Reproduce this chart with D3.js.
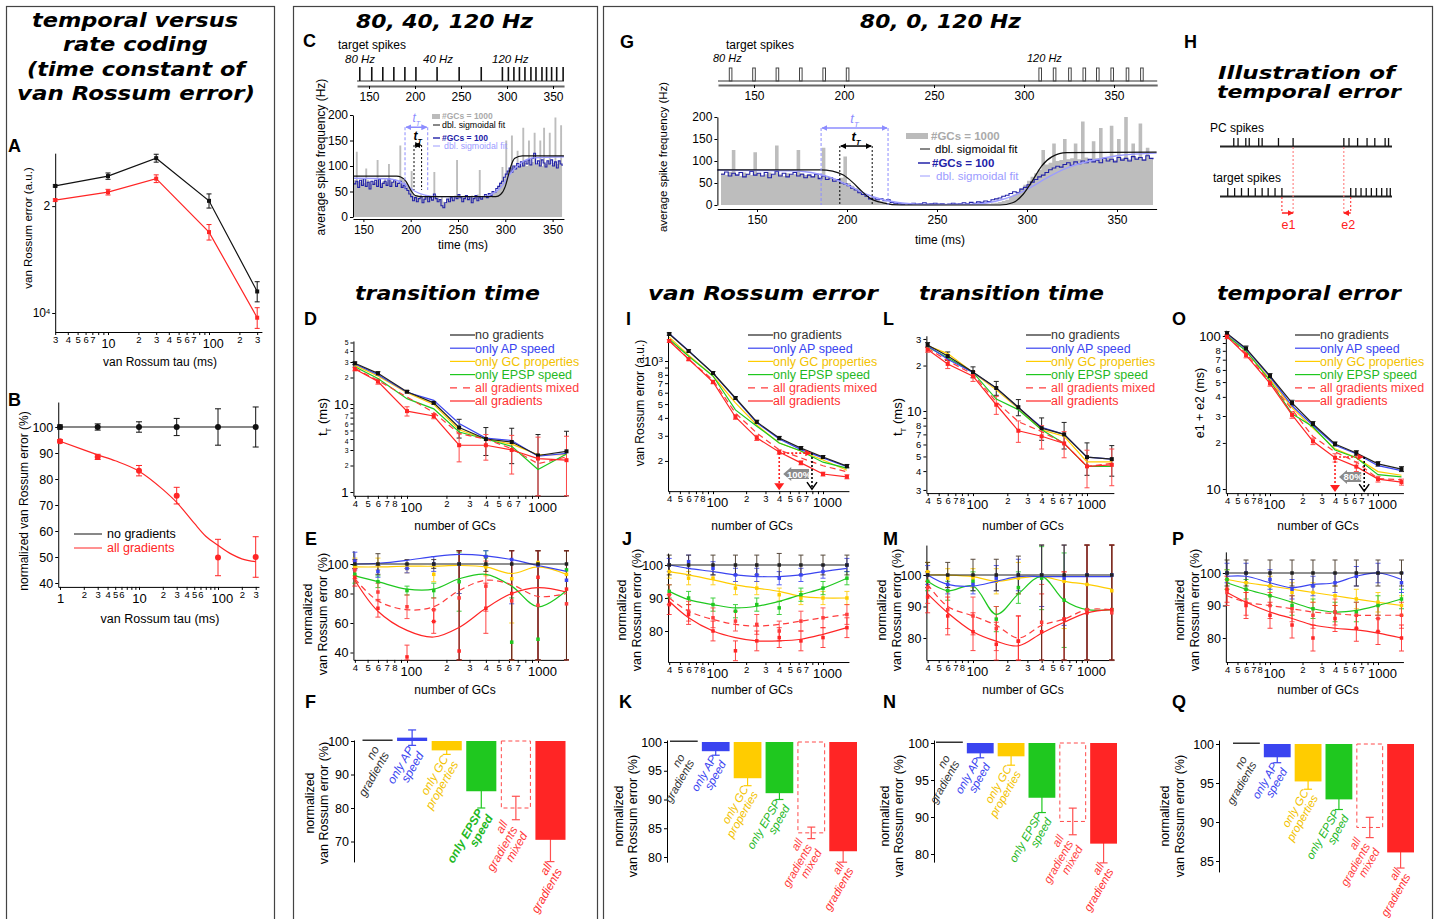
<!DOCTYPE html>
<html><head><meta charset="utf-8">
<script src="https://cdn.jsdelivr.net/npm/d3@7/dist/d3.min.js"></script>
<style>html,body{margin:0;padding:0;background:#fff;overflow:hidden}svg{display:block}</style>
</head><body>
<script>
/* ======================= DATA ======================= */
// Panel A : van Rossum error (x1e4 a.u.) vs tau
const tauA = [3, 10, 30, 100, 300];
const A_noGrad = [2.28, 2.43, 2.73, 2.07, 1.15];
const A_noGrad_err = [0.015, 0.05, 0.07, 0.095, 0.075];
const A_allGrad = [2.08, 2.19, 2.39, 1.69, 0.97];
const A_allGrad_err = [0.015, 0.04, 0.06, 0.085, 0.065];
const A_xLabels = [3,4,5,6,7,10,20,30,40,50,60,70,100,200,300];
const A_yTicks = [1, 2];

// Panel B : normalized van Rossum error vs tau
const tauB = [1, 3, 10, 30, 100, 300];
const B_noGrad = [100, 100, 100, 100, 100, 100];
const B_noGrad_err = [0.8, 1.2, 2, 3.3, 7, 7.7];
const B_allGrad = [94.5, 88.5, 83.2, 73.6, 49.8, 50.0];
const B_allGrad_err = [0.6, 1.0, 2.0, 3.2, 7.0, 7.8];
const B_fitTau = [1, 2, 3, 5, 10, 20, 30, 50, 70, 100, 150, 200, 300];
const B_fit = [94.5, 91.2, 89.3, 87.0, 83.0, 76.0, 71.0, 63.0, 58.0, 54.5, 51.0, 49.3, 48.2];
const B_xLabels = [1,2,3,4,5,6,10,20,30,40,50,60,100,200,300];
const B_yTicks = [40, 50, 60, 70, 80, 90, 100];

// Panel C : 80, 40, 120 Hz  (2 ms bins starting at 140 ms)
const C_binStart = 140, C_binStep = 2;
const C_gc1000 = [
 72,128,70,68,75,66,95,72,70,64,  70,68,112,74,66,70,76,68,104,72,
 68,74,70,66,140,78,72,66,60,56,  90,45,40,42,38,44,36,40,42,38,
 40,36,88,42,38,34,40,30,26,34,   38,40,36,42,112,44,40,38,42,36,
 40,38,42,36,40,44,92,40,38,42,   40,44,38,46,48,52,60,68,98,76,
 150,88,96,160,98,102,130,104,100,175, 106,100,150,104,108,165,102,106,150,100,
 175,104,108,165,102,106,195,104,110,180, 200];
const C_gc100 = [
 65,70,58,72,62,75,60,68,55,70,   64,72,60,74,58,66,70,62,75,60,
 68,72,60,66,70,58,62,56,52,45,   40,32,38,30,36,40,28,35,42,30,
 38,33,45,36,30,34,22,18,28,35,   30,38,32,40,36,44,38,30,36,42,
 34,40,28,36,42,32,38,35,40,44,   38,46,42,50,48,56,60,66,70,78,
 84,90,96,88,100,94,105,98,108,100, 110,104,112,102,115,125,104,110,100,112,
 106,98,110,104,112,100,108,96,110,104, 100];
const C_fitT = [139, 185, 190, 195, 198, 201, 205, 212, 290, 295, 300, 303, 306, 310, 318, 362];
const C_fit = [80, 80, 78, 70, 60, 50, 42, 40, 40, 44, 60, 80, 100, 115, 120, 120];
const C_fitLbT = [139, 175, 185, 195, 200, 205, 215, 230, 275, 285, 295, 300, 305, 315, 330, 362];
const C_fitLb = [76, 75, 72, 62, 56, 50, 43, 40, 40, 44, 58, 70, 84, 104, 116, 118];
const C_targetSpikes = [140,153,165,177,189,201,224,248,272,295,301.5,307.5,313.5,319.5,326,331.5,338,343,348.5,354,361];
const C_trLB = [194, 218], C_trBK = [203.5, 211.5];
const C_timeTicks = [150, 200, 250, 300, 350];
const C_freqTicks = [0, 50, 100, 150, 200];

// Panel G : 80, 0, 120 Hz (2 ms bins starting at 130 ms)
const G_binStart = 130, G_binStep = 2;
const G_gc1000 = [
 72,68,75,125,70,66,74,70,68,120,  72,66,70,74,68,135,70,66,72,68,
 70,125,72,68,70,66,72,64,130,66,  62,60,58,62,110,50,44,38,32,28,
 22,18,14,10,8,6,4,3,2,2,          1,1,1,2,1,1,2,1,1,2,
 1,2,1,1,2,1,1,2,1,2,              1,2,2,3,3,4,5,7,9,12,
 18,24,30,38,46,55,64,72,80,125,   92,96,140,100,102,150,104,106,140,104,
 190,108,104,145,106,175,104,108,180,102, 150,106,200,104,140,108,185,104,130,106,
 135];
const G_gc100 = [
 70,75,66,72,68,74,64,70,76,68,    72,66,74,62,70,76,66,72,64,70,
 74,66,70,62,68,64,70,60,66,58,    62,54,58,50,48,44,38,34,28,24,
 20,14,16,12,14,10,12,6,4,3,       2,3,2,4,2,3,5,2,3,4,
 2,3,1,2,4,2,3,5,3,6,              4,7,6,9,8,12,14,16,20,22,
 26,30,28,36,40,46,52,58,64,68,    74,80,84,88,86,92,96,90,98,94,
 100,96,104,98,102,96,106,100,104,98, 108,102,106,100,110,104,108,102,112,106,
 104];
const G_fitT = [128, 185, 192, 198, 203, 208, 213, 220, 230, 285, 292, 298, 303, 308, 314, 322, 372];
const G_fit = [80, 80, 77, 68, 52, 32, 15, 5, 0, 0, 5, 25, 55, 88, 110, 119, 120];
const G_fitLbT = [128, 170, 180, 190, 200, 210, 220, 232, 245, 270, 282, 292, 302, 312, 322, 335, 350, 372];
const G_fitLb = [79, 78, 74, 64, 46, 26, 12, 4, 1, 2, 8, 20, 40, 64, 84, 100, 112, 118];
const G_targetSpikes = [137,150,163,176,189,202,309,317,325.5,333.5,341,349,357.5,365.5];
const G_trLB = [185.6, 222.8], G_trBK = [196, 214];

// Panel H : illustration (arbitrary time units 0-100)
const H_pcSpikes = [8, 10.5, 15, 17, 22.5, 24.5, 34, 42.5, 72, 75, 80, 85.5, 90, 96, 98];
const H_targetSpikes = [4.5, 8.5, 12.5, 16.5, 20.5, 24.5, 28, 32, 36, 76, 79, 82, 85, 88, 91, 94, 97, 99];
const H_e1 = [36, 42.5], H_e2 = [76, 72];

// number of GCs (x for D-Q)
const nGCs = [40, 60, 100, 160, 250, 400, 630, 1000, 1650];
const gcLabels = [40,50,60,70,80,100,200,300,400,500,600,700,1000];

// Panel D : transition time (ms), 80-40-120
const D_no    = [29, 22.3, 13.8, 10.3, 5.4, 4.0, 3.7, 2.6, 2.9];
const D_ap    = [28.5, 21.5, 13.6, 11.0, 6.0, 4.1, 3.85, 2.55, 2.75];
const D_gc    = [27.5, 20.8, 13.4, 9.9, 5.1, 4.0, 3.5, 2.65, 2.65];
const D_epsp  = [26.5, 19.5, 11.5, 8.8, 4.8, 4.0, 3.3, 1.8, 2.7];
const D_mixed = [25.5, 18.5, 12.0, 8.0, 4.6, 4.0, 3.1, 2.1, 2.5];
const D_all   = [25, 18, 8.3, 7.3, 3.4, 3.4, 3.0, 2.4, 2.3];
const D_err_no  = [1, 1, 0.4, 0.3, 1.3, 1.4, 1.6, 1.9, 2];
const D_err_all = [1.2, 1.2, 1, 0.5, 1.2, 1.1, 1.4, 1.8, 2];
const D_yLabels = [1,2,3,4,5,6,7,10,20,30,40,50];

// Panel E : normalized van Rossum error, 80-40-120
const E_no_pts    = [100,100,100,100,100,100,100,100,100];
const E_ap_pts    = [102, 95, 97, 100, 100, 105, 103, 99, 89];
const E_gc_pts    = [98, 100, 97, 93, 100, 98, 90, 101, 93];
const E_epsp_pts  = [93, 88, 82, 82, 88, 105, 47, 49, 96];
const E_mixed_pts = [96, 81, 71, 69, 77, 85, 75, 72, 73];
const E_all_pts   = [91, 70, 37, 61, 41, 70, 80, 91, 83];
const E_ap_fit    = [100, 100.5, 102.5, 105, 106.5, 105.5, 103, 99, 95];
const E_gc_fit    = [98, 98, 98.5, 98.5, 99, 98, 93.5, 98, 93];
const E_epsp_fit  = [92, 88, 83, 83, 90, 93, 85, 71, 82];
const E_mixed_fit = [90, 75, 69, 71, 82, 89, 86, 78, 80];
const E_all_fit   = [89, 68, 55, 50.5, 57, 70, 80, 84, 81];
const E_err_no  = [3, 7, 3, 3, 70, 5, 70, 70, 70];
const E_err_col = [6, 4, 3, 5, 20, 6, 30, 70, 70];
const E_err_red = [6, 6, 8, 8, 70, 17, 45, 70, 70];

// Panel F/K/N/Q : bars (normalized van Rossum error %)
const F_vals = [100, 101, 97.2, 85, 80, 70.5];
const F_err  = [0, 2.3, 1.2, 5, 3.5, 6.5];
const F_ticks = [70, 80, 90, 100];
const K_vals = [100, 98.4, 93.7, 91.1, 84.2, 81.0];
const K_err  = [0, 0.7, 1.3, 1.1, 1.0, 1.9];
const K_ticks = [80, 85, 90, 95, 100];
const N_vals = [100, 98.6, 98.2, 92.6, 89.4, 86.4];
const N_err  = [0, 0.6, 1.2, 2.0, 1.8, 2.6];
const N_ticks = [85, 90, 95, 100];
const N_tickLabels = ['80', '90', '95', '100'];
const Q_vals = [100, 98.3, 95.2, 92.9, 89.3, 86.1];
const Q_err  = [0, 0.7, 1.0, 1.3, 1.3, 2.0];
const Q_ticks = [85, 90, 95, 100];

// Panel I : van Rossum error (a.u.), 80-0-120
const I_no    = [1545, 1175, 824, 551, 375, 289, 246, 213, 184];
const I_ap    = [1560, 1180, 820, 545, 370, 285, 240, 210, 182];
const I_gc    = [1470, 1100, 785, 510, 357, 267, 235, 203, 172];
const I_epsp  = [1420, 1080, 785, 455, 350, 267, 235, 196, 178];
const I_mixed = [1400, 1030, 735, 432, 314, 239, 210, 185, 168];
const I_all   = [1380, 1030, 713, 406, 290, 231, 194, 162, 155];
const I_err_no  = [30, 25, 20, 12, 10, 8, 6, 5, 5];
const I_err_all = [30, 25, 20, 15, 12, 8, 6, 5, 5];
const I_yLabels = [200,300,400,500,600,700,800,1000];
const I_anno = {xRed: 400, xBlack: 794, y: 227, yArrow: 162, label: '100%'};

// Panel J
const J_no_pts    = [100,100,100,100,100,100,100,100,100];
const J_ap_pts    = [100, 101, 99, 97, 97, 96, 97, 98, 100];
const J_gc_pts    = [98, 96, 96, 93, 93, 91, 90, 90, 90];
const J_epsp_pts  = [92, 90, 88, 86, 88, 87, 91, 93, 96];
const J_mixed_pts = [91, 86, 84, 83, 82, 80, 83, 84, 85];
const J_all_pts   = [88, 85, 80, 74, 77, 78, 77, 78, 81];
const J_ap_fit    = [100, 99, 98, 97, 96.5, 96.5, 97, 98, 99];
const J_gc_fit    = [98, 97, 95.5, 94, 93, 92, 90.5, 90, 90];
const J_epsp_fit  = [92, 89.5, 88, 87, 87.5, 89, 91, 93, 96];
const J_mixed_fit = [90, 86, 83.5, 82, 81.5, 82, 83, 84, 85];
const J_all_fit   = [89, 84, 80, 78, 77, 77, 77.5, 79, 81];
const J_err_no  = [3, 3, 3, 3, 3, 3.5, 3, 3, 3];
const J_err_col = [2, 2, 2, 2, 2, 2, 2, 2, 2];
const J_err_red = [3, 3, 3, 3, 3, 3, 3, 3, 3];

// Panel L : transition time, 80-0-120
const L_no    = [27.4, 23.1, 18.1, 14.2, 10.6, 7.7, 7.0, 4.95, 4.8];
const L_ap    = [27, 22, 18, 14.2, 10.5, 7.8, 7.0, 4.95, 4.8];
const L_gc    = [27, 24, 18, 13.8, 10.4, 7.5, 6.8, 4.6, 4.6];
const L_epsp  = [26.5, 22.5, 18, 12, 10.2, 7.5, 6.1, 4.3, 4.3];
const L_mixed = [26, 21.5, 17.5, 11.5, 8.5, 7.3, 6.1, 4.3, 4.5];
const L_all   = [25.5, 20.5, 17, 11, 7.4, 6.8, 6.1, 4.3, 4.4];
const L_err_no  = [1, 1.5, 1.5, 1.5, 1.3, 1.3, 1.4, 1.2, 1.1];
const L_err_all = [1, 1.4, 1.3, 1.5, 1.2, 1.2, 1.2, 1.2, 1.2];
const L_yLabels = [3,4,5,6,7,8,10,20,30];

// Panel M
const M_no_pts    = [100,100,100,100,100,100,100,100,100];
const M_ap_pts    = [100, 97, 97, 99, 100, 100, 99, 100, 100];
const M_gc_pts    = [101, 99, 99, 98, 99, 100, 98, 97, 95];
const M_epsp_pts  = [98, 95, 98, 86, 96, 99, 92, 89, 89];
const M_mixed_pts = [96, 89, 87, 83, 79, 85, 86, 89, 88];
const M_all_pts   = [93, 87, 82, 78, 79, 82, 86, 88, 89];
const M_ap_fit    = [100, 97, 96.5, 98, 99.5, 99.5, 99.5, 99.5, 99.5];
const M_gc_fit    = [100, 100, 99.5, 98, 99, 99.5, 98, 97, 95.5];
const M_epsp_fit  = [98, 95, 96.5, 87.5, 94, 99.5, 92, 89, 89];
const M_mixed_fit = [97, 90, 87, 84, 80, 84, 86, 89, 89];
const M_all_fit   = [94, 88, 82, 79, 77.5, 81.5, 85, 88, 89];
const M_err_no  = [4, 4, 5, 5, 6, 30, 30, 30, 30];
const M_err_col = [3, 3, 3, 4, 5, 10, 15, 30, 30];
const M_err_red = [5, 6, 6, 7, 8, 12, 15, 30, 30];

// Panel O : temporal error e1+e2 (ms)
const O_no    = [104, 83, 54.8, 36.5, 26.6, 19.7, 17.2, 14.6, 13.5];
const O_ap    = [103, 82, 54, 35, 26, 19.3, 17, 14.2, 13.2];
const O_gc    = [101, 80, 52, 34, 25, 18.3, 16, 13, 12.3];
const O_epsp  = [100, 80, 51, 31, 25.5, 18, 16, 12.4, 12];
const O_mixed = [99, 77, 50, 33, 22, 17.5, 15, 11.7, 11.5];
const O_all   = [99, 75, 49, 30.5, 20.5, 16, 14, 11.6, 11.1];
const O_err_no  = [3, 3, 2, 1.5, 1, 0.6, 0.6, 0.5, 0.5];
const O_err_all = [3, 3, 2, 1.5, 1, 1, 1, 0.5, 0.5];
const O_yLabels = [10,20,30,40,50,60,70,80,100];
const O_anno = {xRed: 400, xBlack: 745, y: 16.2, yArrow: 12, label: '80%'};

// Panel P
const P_no_pts    = [100,100,100,100,100,100,100,100,100];
const P_ap_pts    = [100, 100, 98, 95, 96, 97, 99, 100, 97];
const P_gc_pts    = [98, 97, 96, 94, 94, 93, 92, 91, 90];
const P_epsp_pts  = [98, 95, 93, 90, 89, 88, 88, 90, 92];
const P_mixed_pts = [94, 91, 90, 89, 87, 88, 87, 86, 87];
const P_all_pts   = [95, 90, 87, 84, 80, 86, 83, 82, 80];
const P_ap_fit    = [99, 99, 97, 95.5, 96.5, 97, 99, 100, 98];
const P_gc_fit    = [98, 97, 96, 95, 94, 93, 92, 91, 90];
const P_epsp_fit  = [97, 95, 93, 91, 89, 88, 88.5, 90, 92];
const P_mixed_fit = [93, 91, 90, 89, 88, 87.5, 87, 87, 87];
const P_all_fit   = [94, 91, 88, 86, 84, 83, 82.5, 81.5, 80];
const P_err_no  = [4, 4, 4, 4, 4, 4, 4, 4, 4];
const P_err_col = [3, 3, 3, 3, 3, 3, 3, 3, 3];
const P_err_red = [4, 4, 4, 4, 4, 4, 4, 4, 4];

const normTicks = [80, 90, 100];
const E_ticks = [40, 60, 80, 100];

/* ======================= STYLE ======================= */
const FF = '"Liberation Sans", Arial, Helvetica, sans-serif';
const HEAVY = '"DejaVu Sans", "Liberation Sans", sans-serif';
const SER = [
  {k:'no',    name:'no gradients',        c:'#222222', lc:'#333333'},
  {k:'ap',    name:'only AP speed',       c:'#3a44f0', lc:'#3a44f0'},
  {k:'gc',    name:'only GC properties',  c:'#ffcc00', lc:'#f2c200'},
  {k:'epsp',  name:'only EPSP speed',     c:'#1fc81f', lc:'#1fb81f'},
  {k:'mixed', name:'all gradients mixed', c:'#ff3c3c', lc:'#ff3c3c', dash:'6,4'},
  {k:'all',   name:'all gradients',       c:'#ff2525', lc:'#ff3030'}
];
const RED = '#ff2525';
const BARLAB = {no:['no','gradients'], ap:['only AP','speed'], gc:['only GC','properties'],
  epsp:['only EPSP','speed'], mixed:['all','gradients','mixed'], all:['all','gradients']};

/* ======================= HELPERS ======================= */
const svg = d3.select('body').append('svg').attr('width',1437).attr('height',919).attr('font-family',FF);
const defs = svg.append('defs');
function mk(id,c){ defs.append('marker').attr('id',id).attr('viewBox','0 0 10 10').attr('refX',9).attr('refY',5)
  .attr('markerWidth',4).attr('markerHeight',4).attr('orient','auto-start-reverse')
  .append('path').attr('d','M0,0L10,5L0,10z').attr('fill',c); }
mk('ahK','#000'); mk('ahLB','#8c8cff'); mk('ahR','#ff2020');

function T(g,x,y,s,o={}){
  const t=g.append('text').attr('x',x).attr('y',y).text(s)
    .attr('font-size',o.fs||12).attr('fill',o.c||'#000').attr('text-anchor',o.a||'start');
  if(o.w) t.attr('font-weight',o.w);
  if(o.i) t.attr('font-style','italic');
  if(o.ff) t.attr('font-family',o.ff);
  if(o.tl) t.attr('textLength',o.tl).attr('lengthAdjust','spacingAndGlyphs');
  if(o.rot!=null) t.attr('transform',`rotate(${o.rot},${x},${y})`);
  return t;
}
function VT(x,yc,s,o={}){ return T(svg,x,yc,s,Object.assign({a:'middle',rot:-90},o)); }
function title(x1,x2,yb,s,fs){ T(svg,(x1+x2)/2,yb,s,{fs:fs||20,w:'bold',i:true,ff:HEAVY,a:'middle',tl:x2-x1}); }
function letter(x,y,s){ T(svg,x,y,s,{fs:18,w:'bold'}); }
function tT(x,y,c,fs,w){ const t=T(svg,x,y,'t',{fs:fs,c:c,i:true,w:w||'bold',a:'middle'});
  t.append('tspan').attr('dy',fs*0.3).attr('font-size',fs*0.6).text('T'); return t; }

function linScale(refV, refPx, ppu, d0, d1){ const f=v=>refPx+ppu*(v-refV); return d3.scaleLinear().domain([d0,d1]).range([f(d0),f(d1)]); }
function logScale(refV, refPx, ppd, d0, d1){ const f=v=>refPx+ppd*Math.log10(v/refV); return d3.scaleLog().domain([d0,d1]).range([f(d0),f(d1)]); }

function logTickVals(d){
  const d0=Math.min(...d), d1=Math.max(...d), out=[];
  for(let e=Math.floor(Math.log10(d0));e<=Math.ceil(Math.log10(d1));e++)
    for(let m=1;m<10;m++){ const v=+(m*Math.pow(10,e)).toPrecision(6); if(v>=d0*(1-1e-9)&&v<=d1*(1+1e-9)) out.push(v); }
  return out;
}
const isDec=v=>Math.abs(Math.log10(v)-Math.round(Math.log10(v)))<1e-6;
const lead=v=>String(Math.round(v/Math.pow(10,Math.floor(Math.log10(v)+1e-9))));
function logFmt(labels){ return v=> labels.some(l=>Math.abs(l-v)<1e-6*v) ? (isDec(v)?String(v):lead(v)) : ''; }
function styleAx(g,fs){
  g.attr('font-family',FF).attr('font-size',fs||12);
  g.select('.domain').attr('stroke','#000').attr('stroke-width',1);
  g.selectAll('.tick line').attr('stroke','#000');
  g.selectAll('.tick text').attr('fill','#000');
}
function axisLogX(sc,y,labels,o={}){
  const g=svg.append('g').attr('transform',`translate(0,${y})`)
    .call(d3.axisBottom(sc).tickValues(logTickVals(sc.domain())).tickSize(3).tickSizeOuter(0).tickPadding(1).tickFormat(logFmt(labels)));
  styleAx(g);
  g.selectAll('.tick text').attr('font-size',v=>isDec(v)?(o.dfs||13):(o.mfs||9.5))
    .attr('dy',v=>isDec(v)?'0.95em':'0.71em').attr('dx',v=>isDec(v)&&v>=100?'0.3em':null);
  return g;
}
function axisLogY(sc,x,labels,o={}){
  const g=svg.append('g').attr('transform',`translate(${x},0)`)
    .call(d3.axisLeft(sc).tickValues(o.ticks||logTickVals(sc.domain())).tickSize(3).tickSizeOuter(0).tickPadding(2).tickFormat(logFmt(labels)));
  styleAx(g);
  g.selectAll('.tick text').attr('font-size',v=>isDec(v)?(o.dfs||13):(o.mfs||9.5));
  if(o.shift) g.selectAll('.tick text').attr('y',v=>o.shift[v]||0);
  if(o.sup) g.selectAll('.tick text').each(function(v){ if(o.sup[v]!=null){ const t=d3.select(this); t.text('10');
    t.append('tspan').attr('dy','-0.5em').attr('font-size',(o.dfs||13)*0.62).text(o.sup[v]); }});
  return g;
}
function axisLinY(sc,x,ticks,o={}){
  const g=svg.append('g').attr('transform',`translate(${x},0)`)
    .call(d3.axisLeft(sc).tickValues(ticks).tickSize(3).tickSizeOuter(0).tickPadding(2).tickFormat(o.fmt||(d=>String(d))));
  styleAx(g,o.fs||12); return g;
}
function clampTo(sc,v){ const d=sc.domain(); return Math.max(Math.min(v,Math.max(...d)),Math.min(...d)); }
function drawLine(xs,ys,xsc,ysc,c,o={}){
  svg.append('path').datum(ys).attr('fill','none').attr('stroke',c).attr('stroke-width',o.sw||1.2)
    .attr('stroke-dasharray',o.dash||null)
    .attr('d',d3.line().x((d,i)=>xsc(xs[i])).y(d=>ysc(d)).curve(o.curve||d3.curveLinear));
}
function drawErr(xs,ys,err,xsc,ysc,c,o={}){
  const g=svg.append('g').attr('stroke',c).attr('stroke-width',o.sw||1).attr('opacity',o.op||1);
  const cw=o.cap==null?2.5:o.cap;
  ys.forEach((v,i)=>{ if(!err[i]) return; const px=xsc(xs[i]);
    const a=ysc(clampTo(ysc,v-err[i])), b=ysc(clampTo(ysc,v+err[i]));
    g.append('line').attr('x1',px).attr('x2',px).attr('y1',a).attr('y2',b);
    g.append('line').attr('x1',px-cw).attr('x2',px+cw).attr('y1',a).attr('y2',a);
    g.append('line').attr('x1',px-cw).attr('x2',px+cw).attr('y1',b).attr('y2',b); });
}
function drawPts(xs,ys,xsc,ysc,c,s,shape){
  const g=svg.append('g').attr('fill',c);
  ys.forEach((v,i)=>{ if(shape==='c') g.append('circle').attr('cx',xsc(xs[i])).attr('cy',ysc(v)).attr('r',s/2);
    else g.append('rect').attr('x',xsc(xs[i])-s/2).attr('y',ysc(v)-s/2).attr('width',s).attr('height',s); });
}
function legend(x,y0){
  SER.forEach((s,i)=>{ const y=y0+i*13.2;
    svg.append('line').attr('x1',x-25).attr('x2',x).attr('y1',y).attr('y2',y).attr('stroke',s.c).attr('stroke-width',1.2)
      .attr('stroke-dasharray',s.dash?'7,6':null);
    T(svg,x,y+4.3,s.name,{fs:12.5,c:s.lc}); });
}

/* ======================= FRAMES & TITLES ======================= */
[[6.5,6.5,268,940],[293.5,6.5,304,940],[603.5,6.5,829,940]].forEach(([x,y,w,h])=>
  svg.append('rect').attr('x',x).attr('y',y).attr('width',w).attr('height',h).attr('fill','none').attr('stroke','#444').attr('stroke-width',1.2));

title(32,238,27,'temporal versus');
title(63,208,51,'rate coding');
title(27,245,76,'(time constant of');
title(17,255,100,'van Rossum error)');
title(356,533,28,'80, 40, 120 Hz');
title(860,1021,28,'80, 0, 120 Hz');
title(1218,1395,79,'Illustration of',18.5);
title(1217,1401,98,'temporal error',18.5);
title(355,540,300,'transition time');
title(648,878,300,'van Rossum error');
title(919,1104,300,'transition time');
title(1217,1401,300,'temporal error');

[['A',8,152],['B',8,406],['C',303,47],['D',304,325],['E',305,545],['F',305,708],
 ['G',620,48],['H',1184,48],['I',626,325],['J',622,545],['K',619,708],
 ['L',883,325],['M',883,545],['N',883,708],['O',1172,325],['P',1172,545],['Q',1172,708]]
 .forEach(([s,x,y])=>letter(x,y,s));

/* ======================= PANEL A ======================= */
{
  const xA = logScale(10,108,101,3,334), yA = logScale(1,313,-355,0.884,2.82);
  axisLogX(xA, yA.range()[0], A_xLabels, {dfs:12.5});
  axisLogY(yA, xA.range()[0], [1,2], {ticks:A_yTicks, mfs:12, dfs:12, sup:{1:'4'}});
  drawErr(tauA,A_noGrad,A_noGrad_err,xA,yA,'#111',{cap:2.5});
  drawErr(tauA,A_allGrad,A_allGrad_err,xA,yA,RED,{cap:2.5});
  drawLine(tauA,A_noGrad,xA,yA,'#111');
  drawLine(tauA,A_allGrad,xA,yA,RED);
  drawPts(tauA,A_noGrad,xA,yA,'#111',4); drawPts(tauA,A_allGrad,xA,yA,RED,4);
  VT(32,228,'van Rossum error (a.u.)',{fs:11.5});
  T(svg,160,366,'van Rossum tau (ms)',{fs:12,a:'middle'});
}
/* ======================= PANEL B ======================= */
{
  const xB = logScale(10,139,79,0.95,330), yB = linScale(100,427,-2.6,38.5,109.6);
  axisLogX(xB, yB.range()[0], B_xLabels, {dfs:13});
  axisLinY(yB, xB.range()[0], B_yTicks, {fs:12.5});
  drawErr(tauB,B_noGrad,B_noGrad_err,xB,yB,'#111',{cap:3});
  drawErr(tauB,B_allGrad,B_allGrad_err,xB,yB,RED,{cap:3});
  drawLine(tauB,B_noGrad,xB,yB,'#111');
  drawLine(B_fitTau,B_fit,xB,yB,RED,{curve:d3.curveMonotoneX});
  drawPts(tauB,B_noGrad,xB,yB,'#111',6,'c'); drawPts(tauB,B_allGrad,xB,yB,RED,6,'c');
  svg.append('line').attr('x1',74).attr('x2',102).attr('y1',534).attr('y2',534).attr('stroke','#111');
  svg.append('line').attr('x1',74).attr('x2',102).attr('y1',548).attr('y2',548).attr('stroke',RED);
  T(svg,107,538,'no gradients',{fs:12.5}); T(svg,107,552,'all gradients',{fs:12.5,c:RED});
  VT(28,501,'normalized van Rossum error (%)',{fs:12});
  T(svg,160,623,'van Rossum tau (ms)',{fs:12.5,a:'middle'});
}

/* ======================= PANELS C & G ======================= */
function ratePanel(p){
  const xs=p.x, ys=p.y, y0=ys(0);
  const tt=p.gray.map((d,i)=>p.binStart+i*p.binStep);
  svg.append('path').datum(p.gray).attr('fill','#bdbdbd')
    .attr('d',d3.area().x((d,i)=>xs(tt[i])).y0(y0).y1(d=>ys(d)).curve(d3.curveStepAfter));
  svg.append('path').datum(p.blue).attr('fill','none').attr('stroke','#2222a8').attr('stroke-width',1.1)
    .attr('d',d3.line().x((d,i)=>xs(tt[i])).y(d=>ys(d)).curve(d3.curveStepAfter));
  svg.append('path').datum(p.fitLb).attr('fill','none').attr('stroke','#9c9cff').attr('stroke-width',1.4)
    .attr('d',d3.line().x((d,i)=>xs(p.fitLbT[i])).y(d=>ys(d)).curve(d3.curveMonotoneX));
  svg.append('path').datum(p.fit).attr('fill','none').attr('stroke','#111').attr('stroke-width',1.2)
    .attr('d',d3.line().x((d,i)=>xs(p.fitT[i])).y(d=>ys(d)).curve(d3.curveMonotoneX));
  const gx=svg.append('g').attr('transform',`translate(0,${p.xAxisY})`)
    .call(d3.axisBottom(xs).tickValues(C_timeTicks).tickSize(3).tickSizeOuter(0));
  styleAx(gx,p.fs);
  const gy=svg.append('g').attr('transform',`translate(${xs.range()[0]},0)`)
    .call(d3.axisLeft(ys).tickValues(C_freqTicks).tickSize(3).tickSizeOuter(0).tickPadding(2));
  styleAx(gy,p.fs);
  [[p.trLB,p.arrLB,'#8c8cff','ahLB','3,2'],[p.trBK,p.arrBK,'#000','ahK','2,2']].forEach(([tr,av,c,m,da])=>{
    const xa=xs(tr[0]), xb=xs(tr[1]), ya=ys(av), yd=ys(p.dropTo);
    [xa,xb].forEach(xv=>svg.append('line').attr('x1',xv).attr('x2',xv).attr('y1',ya).attr('y2',yd)
      .attr('stroke',c).attr('stroke-width',1).attr('stroke-dasharray',da));
    svg.append('line').attr('x1',xa+1).attr('x2',xb-1).attr('y1',ya).attr('y2',ya).attr('stroke',c).attr('stroke-width',1.5)
      .attr('marker-start',`url(#${m})`).attr('marker-end',`url(#${m})`);
    tT((xa+xb)/2, ya-5, c, p.tfs, c==='#000'?'bold':'normal');
  });
  const xt=p.xt;
  svg.append('line').attr('x1',xt.range()[0]).attr('x2',xt.range()[1]).attr('y1',81).attr('y2',81).attr('stroke','#333').attr('stroke-width',1.2);
  p.spikes.forEach(t=>{
    if(p.pulse) svg.append('rect').attr('x',xt(t)-1.3).attr('y',68).attr('width',2.6).attr('height',13).attr('fill','none').attr('stroke','#444').attr('stroke-width',1);
    else svg.append('line').attr('x1',xt(t)).attr('x2',xt(t)).attr('y1',67).attr('y2',81).attr('stroke','#111').attr('stroke-width',1.6);
  });
  const gt=svg.append('g').attr('transform',`translate(0,${p.topAxisY})`)
    .call(d3.axisBottom(xt).tickValues(C_timeTicks).tickSize(3).tickSizeOuter(0));
  styleAx(gt,p.fs); gt.select('.domain').attr('stroke','#666').attr('stroke-width',2);
}
ratePanel({x:linScale(150,363.4,0.946,139,362), y:linScale(0,217,-0.51,0,200), xt:linScale(150,369,0.92,137,362),
  gray:C_gc1000, blue:C_gc100, binStart:C_binStart, binStep:C_binStep, fitT:C_fitT, fit:C_fit, fitLbT:C_fitLbT, fitLb:C_fitLb,
  trLB:C_trLB, trBK:C_trBK, arrLB:176, arrBK:141, dropTo:53, spikes:C_targetSpikes, pulse:false,
  xAxisY:219, topAxisY:86, fs:12, tfs:12});
ratePanel({x:linScale(150,757,1.8,128,372), y:linScale(0,205,-0.44,0,200), xt:linScale(150,754,1.8,130,374),
  gray:G_gc1000, blue:G_gc100, binStart:G_binStart, binStep:G_binStep, fitT:G_fitT, fit:G_fit, fitLbT:G_fitLbT, fitLb:G_fitLb,
  trLB:G_trLB, trBK:G_trBK, arrLB:175, arrBK:134, dropTo:0, spikes:G_targetSpikes, pulse:true,
  xAxisY:209, topAxisY:85, fs:12, tfs:13});
// C texts
T(svg,338,49,'target spikes',{fs:12});
T(svg,345,63,'80 Hz',{fs:11.5,i:true}); T(svg,423,63,'40 Hz',{fs:11.5,i:true}); T(svg,492,63,'120 Hz',{fs:11.5,i:true});
VT(325,157,'average spike frequency (Hz)',{fs:12});
T(svg,463,249,'time (ms)',{fs:12,a:'middle'});
svg.append('rect').attr('x',432).attr('y',114).attr('width',8).attr('height',5).attr('fill','#bbb');
T(svg,442,119,'#GCs = 1000',{fs:8.5,w:'bold',c:'#aaa'});
svg.append('line').attr('x1',433).attr('x2',440).attr('y1',125).attr('y2',125).attr('stroke','#111');
T(svg,442,128,'dbl. sigmoidal fit',{fs:8.8});
svg.append('line').attr('x1',433).attr('x2',440).attr('y1',138).attr('y2',138).attr('stroke','#2222a8').attr('stroke-width',1.4);
T(svg,442,141,'#GCs = 100',{fs:8.5,w:'bold',c:'#2222a8'});
svg.append('line').attr('x1',433).attr('x2',440).attr('y1',146).attr('y2',146).attr('stroke','#9c9cff');
T(svg,444,149,'dbl. sigmoidal fit',{fs:8.8,c:'#9c9cff'});
// G texts
T(svg,726,49,'target spikes',{fs:12});
T(svg,713,62,'80 Hz',{fs:11,i:true}); T(svg,1027,62,'120 Hz',{fs:11,i:true});
VT(667,157,'average spike frequency (Hz)',{fs:11.5});
T(svg,940,244,'time (ms)',{fs:12,a:'middle'});
svg.append('rect').attr('x',906).attr('y',133).attr('width',22).attr('height',6).attr('fill','#bbb');
T(svg,931,140,'#GCs = 1000',{fs:11.5,w:'bold',c:'#aaa'});
svg.append('line').attr('x1',920).attr('x2',930).attr('y1',149).attr('y2',149).attr('stroke','#111');
T(svg,935,153,'dbl. sigmoidal fit',{fs:11.5});
svg.append('line').attr('x1',918).attr('x2',930).attr('y1',163).attr('y2',163).attr('stroke','#2222a8').attr('stroke-width',1.5);
T(svg,932,167,'#GCs = 100',{fs:11.5,w:'bold',c:'#2222a8'});
svg.append('line').attr('x1',920).attr('x2',930).attr('y1',176).attr('y2',176).attr('stroke','#9c9cff');
T(svg,936,180,'dbl. sigmoidal fit',{fs:11.5,c:'#9c9cff'});

/* ======================= PANEL H ======================= */
{
  const xH = d3.scaleLinear().domain([0,100]).range([1220,1392]);
  T(svg,1210,132,'PC spikes',{fs:12});
  T(svg,1213,182,'target spikes',{fs:12});
  svg.append('line').attr('x1',xH(0)).attr('x2',xH(100)).attr('y1',146.5).attr('y2',146.5).attr('stroke','#222').attr('stroke-width',1.8);
  svg.append('line').attr('x1',xH(0)).attr('x2',xH(100)).attr('y1',196.5).attr('y2',196.5).attr('stroke','#222').attr('stroke-width',1.8);
  H_pcSpikes.forEach(t=>svg.append('line').attr('x1',xH(t)).attr('x2',xH(t)).attr('y1',138).attr('y2',146).attr('stroke','#111').attr('stroke-width',1.3));
  H_targetSpikes.forEach(t=>svg.append('line').attr('x1',xH(t)).attr('x2',xH(t)).attr('y1',188).attr('y2',196).attr('stroke','#111').attr('stroke-width',1.3));
  [[H_e1,'e1'],[H_e2,'e2']].forEach(([e,s])=>{
    const xt=xH(e[0]), xp=xH(e[1]);
    svg.append('line').attr('x1',xt).attr('x2',xt).attr('y1',197).attr('y2',213).attr('stroke','#ff2020').attr('stroke-dasharray','2,2');
    svg.append('line').attr('x1',xp).attr('x2',xp).attr('y1',147).attr('y2',213).attr('stroke','#ff7070').attr('stroke-dasharray','2,2');
    svg.append('line').attr('x1',xt).attr('x2',xp).attr('y1',213).attr('y2',213).attr('stroke','#ff2020').attr('stroke-width',1.5).attr('marker-end','url(#ahR)');
    T(svg,(xt+xp)/2+1,229,s,{fs:12.5,c:'#ff2020',a:'middle'});
  });
}

/* ======================= LOG-LOG LINE PANELS (D, I, L, O) ======================= */
function logLinePanel(p){
  axisLogX(p.x, p.y.range()[0], gcLabels);
  axisLogY(p.y, p.x.range()[0], p.yLabels, {sup:p.sup, mfs:p.mfs, shift:p.shift});
  drawErr(nGCs,p.s.no,p.errNo,p.x,p.y,'#222',{cap:2.5});
  drawErr(nGCs,p.s.all,p.errAll,p.x,p.y,'#ff4a4a',{cap:2.5});
  ['gc','epsp','ap','no','mixed','all'].forEach(k=>{ const s=SER.find(z=>z.k===k);
    drawLine(nGCs,p.s[k],p.x,p.y,s.c,{dash:s.dash}); });
  drawPts(nGCs,p.s.no,p.x,p.y,'#111',4); drawPts(nGCs,p.s.all,p.x,p.y,RED,4);
  legend(p.legX,335);
}
function dropAnno(xs,ys,a){
  const xr=xs(a.xRed), xk=xs(a.xBlack), y=ys(a.y), yb=ys.range()[0];
  svg.append('line').attr('x1',xr).attr('x2',xk-1).attr('y1',y).attr('y2',y).attr('stroke','#ff2020').attr('stroke-width',1.6).attr('stroke-dasharray','2,2').attr('marker-end','url(#ahR)');
  svg.append('line').attr('x1',xr).attr('x2',xr).attr('y1',y).attr('y2',yb-7).attr('stroke','#ff2020').attr('stroke-width',1.6).attr('stroke-dasharray','2,2');
  svg.append('path').attr('d',`M${xr-5},${yb-8}L${xr+5},${yb-8}L${xr},${yb-1}Z`).attr('fill','#ff2020');
  svg.append('line').attr('x1',xk).attr('x2',xk).attr('y1',y).attr('y2',yb-3).attr('stroke','#000').attr('stroke-width',1.6).attr('stroke-dasharray','2,2');
  svg.append('path').attr('d',`M${xk-5},${yb-9}L${xk},${yb-2}L${xk+5},${yb-9}`).attr('fill','none').attr('stroke','#000').attr('stroke-width',1.5);
  const ya=ys(a.yArrow), x1=xr+4, x2=xk-3;
  svg.append('path').attr('d',`M${x1},${ya}L${x1+8},${ya-7}L${x1+8},${ya-5}L${x2},${ya-5}L${x2},${ya+5}L${x1+8},${ya+5}L${x1+8},${ya+7}Z`).attr('fill','#8a8a8a');
  T(svg,(x1+x2)/2+3,ya+3.5,a.label,{fs:9.5,w:'bold',c:'#fff',a:'middle'});
}
const xD = logScale(100,407,131,39,1650), yD = logScale(10,404,-88,0.905,52);
logLinePanel({x:xD, y:yD, yLabels:D_yLabels, mfs:6.8, shift:{7:-1.5, 6:0.5, 5:1.8, 4:2},
  s:{no:D_no,ap:D_ap,gc:D_gc,epsp:D_epsp,mixed:D_mixed,all:D_all},
  errNo:D_err_no, errAll:D_err_all, legX:475});
const xI = logScale(100,713,110,39,1720), yI = logScale(1000,361,-143,123,1600);
logLinePanel({x:xI, y:yI, yLabels:I_yLabels, sup:{1000:'3'}, s:{no:I_no,ap:I_ap,gc:I_gc,epsp:I_epsp,mixed:I_mixed,all:I_all},
  errNo:I_err_no, errAll:I_err_all, legX:773});
dropAnno(xI,yI,I_anno);
const xL = logScale(100,973,114,39,1720), yL = logScale(10,411,-151,2.86,31.5);
logLinePanel({x:xL, y:yL, yLabels:L_yLabels, s:{no:L_no,ap:L_ap,gc:L_gc,epsp:L_epsp,mixed:L_mixed,all:L_all},
  errNo:L_err_no, errAll:L_err_all, legX:1051});
const xO = logScale(100,1270,108,39,1720), yO = logScale(10,489,-153,9.4,109);
logLinePanel({x:xO, y:yO, yLabels:O_yLabels, s:{no:O_no,ap:O_ap,gc:O_gc,epsp:O_epsp,mixed:O_mixed,all:O_all},
  errNo:O_err_no, errAll:O_err_all, legX:1320});
dropAnno(xO,yO,O_anno);
tT(327,417,'#000',13,'normal').attr('transform','rotate(-90,327,417)').attr('font-style','normal').append('tspan').attr('dy',-13*0.3).attr('font-size',13).text(' (ms)');
VT(644,403,'van Rossum error (a.u.)',{fs:12});
tT(902,417,'#000',13,'normal').attr('transform','rotate(-90,902,417)').attr('font-style','normal').append('tspan').attr('dy',-13*0.3).attr('font-size',13).text(' (ms)');
VT(1204,403,'e1 + e2 (ms)',{fs:12.5});
[[455,530],[752,530],[1023,530],[1318,530],[455,694],[752,694],[1023,694],[1318,694]].forEach(([x,y])=>T(svg,x,y,'number of GCs',{fs:12,a:'middle'}));

/* ======================= NORMALIZED PANELS (E, J, M, P) ======================= */
function normPanel(p){
  axisLogX(p.x, p.y.range()[0], gcLabels);
  axisLinY(p.y, p.x.range()[0], p.ticks, {fs:12.5});
  const order=['gc','epsp','ap','mixed','all','no'];
  order.forEach(k=>{ const s=SER.find(z=>z.k===k);
    const e = k==='no'?p.errNo:(k==='mixed'||k==='all')?p.errRed:p.errCol;
    drawErr(nGCs,p.pts[k],e,p.x,p.y,k==='no'?'#3a2a1a':s.c,{cap:2.5,op:0.85}); });
  order.forEach(k=>{ const s=SER.find(z=>z.k===k);
    drawLine(nGCs, k==='no'?p.pts.no:p.fit[k], p.x, p.y, s.c, {curve:d3.curveCatmullRom, dash:s.dash});
    drawPts(nGCs,p.pts[k],p.x,p.y,s.c,3.5); });
}
normPanel({x:xD, y:linScale(100,564,-1.475,35,109), ticks:E_ticks,
  pts:{no:E_no_pts,ap:E_ap_pts,gc:E_gc_pts,epsp:E_epsp_pts,mixed:E_mixed_pts,all:E_all_pts},
  fit:{ap:E_ap_fit,gc:E_gc_fit,epsp:E_epsp_fit,mixed:E_mixed_fit,all:E_all_fit},
  errNo:E_err_no, errCol:E_err_col, errRed:E_err_red});
normPanel({x:xI, y:linScale(100,565,-3.3,70.6,103.6), ticks:normTicks,
  pts:{no:J_no_pts,ap:J_ap_pts,gc:J_gc_pts,epsp:J_epsp_pts,mixed:J_mixed_pts,all:J_all_pts},
  fit:{ap:J_ap_fit,gc:J_gc_fit,epsp:J_epsp_fit,mixed:J_mixed_fit,all:J_all_fit},
  errNo:J_err_no, errCol:J_err_col, errRed:J_err_red});
normPanel({x:xL, y:linScale(100,575,-3.15,73,109.5), ticks:normTicks,
  pts:{no:M_no_pts,ap:M_ap_pts,gc:M_gc_pts,epsp:M_epsp_pts,mixed:M_mixed_pts,all:M_all_pts},
  fit:{ap:M_ap_fit,gc:M_gc_fit,epsp:M_epsp_fit,mixed:M_mixed_fit,all:M_all_fit},
  errNo:M_err_no, errCol:M_err_col, errRed:M_err_red});
normPanel({x:xO, y:linScale(100,573,-3.25,72.6,106.5), ticks:normTicks,
  pts:{no:P_no_pts,ap:P_ap_pts,gc:P_gc_pts,epsp:P_epsp_pts,mixed:P_mixed_pts,all:P_all_pts},
  fit:{ap:P_ap_fit,gc:P_gc_fit,epsp:P_epsp_fit,mixed:P_mixed_fit,all:P_all_fit},
  errNo:P_err_no, errCol:P_err_col, errRed:P_err_red});
[[312,327,614],[626,641,610],[886,901,610],[1184,1199,610]].forEach(([a,b,y])=>{
  VT(a,y,'normalized',{fs:12.5}); VT(b,y,'van Rossum error (%)',{fs:12.5}); });

/* ======================= BAR PANELS (F, K, N, Q) ======================= */
function barPanel(p){
  const cats=SER.map(s=>s.k);
  const xb=d3.scaleBand().domain(cats).range(p.xr).paddingInner(0.13);
  const ys=p.y;
  axisLinY(ys, p.ax, p.ticks, {fs:12.5, fmt:p.tickLabels?(d=>p.tickLabels[p.ticks.indexOf(d)]):null});
  const y100=ys(100), bw=xb.bandwidth();
  cats.forEach((k,i)=>{ const e=p.err[i]; if(!e) return; const s=SER[i];
    const cx=xb(k)+bw/2, a=ys(p.vals[i]-e), b=ys(p.vals[i]+e);
    const g=svg.append('g').attr('stroke',k==='all'||k==='mixed'?'#ff5050':s.c).attr('stroke-width',1.2);
    g.append('line').attr('x1',cx).attr('x2',cx).attr('y1',a).attr('y2',b);
    g.append('line').attr('x1',cx-4).attr('x2',cx+4).attr('y1',a).attr('y2',a);
    g.append('line').attr('x1',cx-4).attr('x2',cx+4).attr('y1',b).attr('y2',b); });
  cats.forEach((k,i)=>{ const s=SER[i], v=p.vals[i], y1=ys(v);
    const top=Math.min(y100,y1), h=Math.max(Math.abs(y1-y100),1.5);
    if(k==='mixed') svg.append('rect').attr('x',xb(k)+0.5).attr('y',top).attr('width',bw-1).attr('height',h)
      .attr('fill','none').attr('stroke','#ff4a4a').attr('stroke-dasharray','4,3');
    else if(k==='no') svg.append('rect').attr('x',xb(k)).attr('y',y100-1.5).attr('width',bw).attr('height',1.5).attr('fill','#333');
    else svg.append('rect').attr('x',xb(k)).attr('y',top).attr('width',bw).attr('height',h).attr('fill',s.c); });
  const lh=p.fs*0.95;
  cats.forEach((k,i)=>{ const s=SER[i], n=BARLAB[k].length;
    const low=ys(Math.min(100,p.vals[i]-p.err[i]));
    const ax=xb(k)+bw-3-(n-1)*lh*0.866, ay=low+p.gap+(k==='no'?p.noExtra:0);
    const t=svg.append('text').attr('transform',`translate(${ax},${ay}) rotate(-60)`).attr('text-anchor','end')
      .attr('font-style','italic').attr('font-size',p.fs).attr('fill',s.lc);
    if(k==='epsp'&&p.boldEpsp) t.attr('font-weight','bold');
    BARLAB[k].forEach((ln,j)=>t.append('tspan').attr('x',0).attr('dy',j?lh:0).text(ln)); });
}
barPanel({xr:[362.5,565.5], y:linScale(100,741,-3.35,63.9,100.3), ax:354, ticks:F_ticks, vals:F_vals, err:F_err, gap:4, noExtra:4, fs:12, boldEpsp:true});
barPanel({xr:[670,857], y:linScale(100,742,-5.75,79.1,100.35), ax:667, ticks:K_ticks, vals:K_vals, err:K_err, gap:3, noExtra:12, fs:11.5});
barPanel({xr:[936,1117], y:linScale(100,743,-7.4,83.9,100.4), ax:934, ticks:N_ticks, tickLabels:N_tickLabels, vals:N_vals, err:N_err, gap:3, noExtra:12, fs:11.5});
barPanel({xr:[1233,1414], y:linScale(100,744,-7.8,83.6,100.5), ax:1219, ticks:Q_ticks, vals:Q_vals, err:Q_err, gap:3, noExtra:12, fs:11.5});
[[314,328,803],[623,637,816],[889,903,816],[1169,1184,816]].forEach(([a,b,y])=>{
  VT(a,y,'normalized',{fs:12.5}); VT(b,y,'van Rossum error (%)',{fs:12.5}); });
</script>
</body></html>
